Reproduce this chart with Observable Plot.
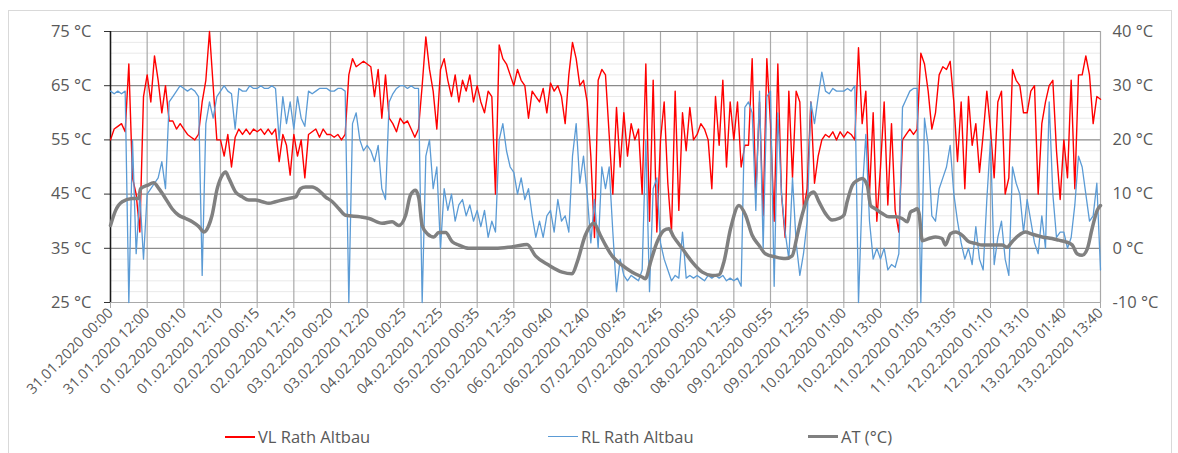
<!DOCTYPE html>
<html>
<head>
<meta charset="utf-8">
<script src="https://cdn.jsdelivr.net/npm/d3@7"></script>
<script src="https://cdn.jsdelivr.net/npm/@observablehq/plot@0.6"></script>
<style>
  html, body { margin: 0; padding: 0; background: #fff; }
  body { width: 1178px; height: 453px; position: relative; overflow: hidden; font-family: "Open Sans", "Noto Sans", sans-serif; }
  #frame { position: absolute; left: 8px; top: 10px; width: 1164px; height: 470px; border: 1px solid #d9d9d9; box-sizing: border-box; }
  #chart { position: absolute; left: 0; top: 0; }
  .leg { position: absolute; top: 425px; font-size: 16.5px; color: #595959; white-space: nowrap; display: flex; align-items: center; }
  .leg span.sw { display: inline-block; width: 30px; margin-right: 3px; }
</style>
</head>
<body>
<div id="frame"></div>
<div id="chart"></div>
<div id="legend"></div>
<script>
// ---------- data ----------
const xLabels = [
  "31.01.2020 00:00", "31.01.2020 12:00", "01.02.2020 00:10", "01.02.2020 12:10",
  "02.02.2020 00:15", "02.02.2020 12:15", "03.02.2020 00:20", "03.02.2020 12:20",
  "04.02.2020 00:25", "04.02.2020 12:25", "05.02.2020 00:35", "05.02.2020 12:35",
  "06.02.2020 00:40", "06.02.2020 12:40", "07.02.2020 00:45", "07.02.2020 12:45",
  "08.02.2020 00:50", "08.02.2020 12:50", "09.02.2020 00:55", "09.02.2020 12:55",
  "10.02.2020 01:00", "10.02.2020 13:00", "11.02.2020 01:05", "11.02.2020 13:05",
  "12.02.2020 01:10", "12.02.2020 13:10", "13.02.2020 01:40", "13.02.2020 13:40"
];
const leftTicks = [25, 35, 45, 55, 65, 75];
const leftTickLabels = ["25 °C", "35 °C", "45 °C", "55 °C", "65 °C", "75 °C"];
const rightTickLabels = ["-10 °C", "0 °C", "10 °C", "20 °C", "30 °C", "40 °C"];
const minorTicks = [27, 29, 31, 33, 37, 39, 41, 43, 47, 49, 51, 53, 57, 59, 61, 63, 67, 69, 71, 73];
const seriesNames = ["VL Rath Altbau", "RL Rath Altbau", "AT (°C)"];

// VL / RL sampled every 0.1 label interval (x = 0 ... 27)
const vl = [
  55, 57, 57.5, 58, 56.5, 69, 48, 45, 38, 63,
  67, 62, 70.5, 66, 60, 65, 58.5, 58.5, 57, 58,
  57, 56, 55.5, 55, 56, 62, 66, 75, 65, 55,
  55, 52, 56, 50, 55.5, 57, 56, 57, 56, 57,
  56.5, 57, 56, 57, 56, 57, 51, 56, 54, 48.5,
  56, 52, 55, 48, 56, 56.5, 57, 55.5, 57, 56,
  56, 55.5, 56, 55, 56, 67, 70, 68.5, 69, 69.5,
  69, 68.5, 63, 68, 59, 67, 59, 58, 56.5, 59,
  58, 58.5, 57, 55.5, 57, 65, 74, 68, 64, 57,
  68, 70, 66, 63, 67, 62, 66, 64, 67, 62,
  65, 62, 60, 64, 63, 45, 72.5, 70, 69, 67,
  65, 68, 66, 65, 59, 64, 63, 62, 64.5, 60,
  65.5, 64, 65, 63, 58, 67, 73, 70, 65, 66,
  62, 52, 37, 66, 68, 67, 56, 45, 61, 50,
  60, 52, 58, 55, 57, 45, 69, 40, 66, 38,
  55, 62, 47, 38, 64, 42, 60, 53, 61, 55,
  56, 58, 57, 55, 46, 63, 54, 66, 50, 62,
  55, 62, 50, 54, 54, 70, 45, 62, 41, 70,
  58, 40, 69, 45, 37, 64, 48, 64, 62, 42,
  46, 62, 47, 52, 55, 56, 55.5, 56.5, 55, 56.5,
  55.5, 56.5, 56, 55, 72, 58, 64, 45, 60, 40,
  50, 62, 43, 58, 42, 38, 55, 56, 57, 56,
  57, 71, 69, 64, 57, 60, 67, 68.5, 68, 69.5,
  62, 51, 62, 46, 63, 54, 58, 49, 56, 64,
  57, 48, 62, 64, 45, 48, 68, 66, 65, 60,
  60, 64, 65, 45, 58, 62, 65, 66, 53, 44,
  55, 48, 66, 46, 67, 67, 70.5, 67, 58, 63,
  62.5
];
const rl = [
  64, 63.5, 64, 63.5, 64, 25, 55, 34, 45, 33,
  45, 46, 47, 48, 51, 46, 62, 63, 64, 65,
  64.5, 64, 64.5, 64, 63, 30, 58, 62, 59, 63,
  64, 65, 64, 63.5, 57, 64.5, 64, 64, 65, 64.5,
  64.5, 65, 64.5, 64.5, 65, 64.5, 55, 63, 58, 62,
  57, 63, 59, 57.5, 64, 63.5, 64, 64.5, 64.5, 64.5,
  64, 64, 64.5, 64.5, 64, 25, 58, 60, 55, 53,
  54, 53, 51, 54, 46, 44, 62, 63.5, 64.5, 65,
  65, 64.5, 65, 64.5, 64.5, 25, 52, 55, 46, 50,
  35, 46, 42, 45, 40, 43, 44, 41, 43, 40,
  42, 39, 42, 37, 40, 38, 55, 58, 53, 50,
  49, 45, 48, 44, 46, 41, 37, 40, 37, 41,
  42, 38, 44, 40, 41, 38, 52, 58, 47, 52,
  45, 36, 44, 35, 50, 46, 50, 38, 27, 33,
  30, 29, 30, 29.5, 29, 31, 55, 27, 46, 48,
  36, 33, 31, 29, 30, 29.5, 38, 29.5, 30, 29.5,
  30, 29.5, 29, 30, 29.5, 30, 29.5, 30, 29, 29.5,
  29, 29.5, 28, 61, 62, 60, 42, 64, 35, 63,
  64, 28, 60, 45, 38, 33, 48, 36, 30, 34,
  40, 62, 58, 63, 67.5, 64, 63.5, 64.5, 64, 64,
  64, 64.5, 64, 65, 25, 45, 56, 40, 33, 35,
  33, 35, 31, 32, 31.5, 34, 61, 62.5, 64, 64.5,
  64.5, 25, 59, 54, 41, 40, 46, 48, 50, 54,
  45, 40, 36, 33, 35, 32, 39, 33, 31, 44,
  55, 32, 37, 40, 33, 30, 50, 47, 45, 38,
  44, 40, 36, 34, 41, 35, 62, 45, 37, 38,
  38, 35, 37, 43, 52, 50, 45, 40, 41, 47,
  31
];
// AT (right axis, °C)
const atX = [
  0, 0.14, 0.32, 0.59, 0.77, 0.82, 1.0, 1.18, 1.32, 1.5,
  1.68, 1.86, 2.05, 2.23, 2.41, 2.55, 2.68, 2.77, 2.91, 3.05,
  3.14, 3.23, 3.41, 3.59, 3.77, 3.95, 4.14, 4.32, 4.5, 4.68,
  4.86, 5.05, 5.18, 5.32, 5.5, 5.68, 5.86, 6.05, 6.23, 6.41,
  6.82, 7.05, 7.41, 7.68, 7.86, 8.05, 8.18, 8.32, 8.41, 8.5,
  8.64, 8.82, 8.95, 9.14, 9.32, 9.5, 9.77, 10.14, 10.5, 10.86,
  11.23, 11.36, 11.59, 11.95, 12.32, 12.59, 12.73, 12.95, 13.18, 13.36,
  13.5, 13.68, 13.95, 14.23, 14.5, 14.59, 14.73, 14.91, 15.09, 15.23,
  15.36, 15.59, 15.86, 16.14, 16.41, 16.59, 16.73, 16.91, 17.14, 17.32,
  17.5, 17.68, 17.86, 18.14, 18.41, 18.59, 18.73, 18.86, 19.05, 19.18,
  19.32, 19.5, 19.68, 19.86, 20.0, 20.09, 20.23, 20.36, 20.5, 20.64,
  20.73, 20.86, 21.05, 21.23, 21.41, 21.59, 21.73, 21.82, 21.91, 22.0,
  22.05, 22.14, 22.32, 22.5, 22.68, 22.77, 22.91, 23.05, 23.23, 23.41,
  23.59, 23.77, 23.95, 24.14, 24.32, 24.45, 24.59, 24.77, 24.95, 25.14,
  25.41, 25.68, 25.86, 26.05, 26.23, 26.36, 26.5, 26.64, 26.77, 26.91,
  27.0
];
const atVal = [
  4.2, 7, 8.6, 9.2, 9.2, 11, 11.6, 12.1, 11, 9.2,
  7.3, 6.1, 5.5, 4.9, 4, 3, 4.2, 6.1, 11, 13.5,
  14.1, 12.9, 10.4, 9.5, 8.9, 8.9, 8.6, 8.3, 8.6, 8.9,
  9.2, 9.5, 11, 11.3, 11.3, 10.7, 9.5, 8.6, 7.3, 6.1,
  5.8, 5.5, 4.6, 4.9, 4.2, 6.1, 9.8, 10.7, 9.2, 4.2,
  2.7, 2.1, 2.9, 2.9, 1.2, 0.6, 0, 0, 0, 0.2,
  0.6, 0.7, -1.4, -3.1, -4.4, -4.7, -2.5, 2.4, 4.6, 2.4,
  0.6, -1.4, -3.1, -4.4, -5.3, -5.6, -2.5, 1.2, 3.3, 3.6,
  2.1, 0, -2.5, -4.4, -5, -4.9, -2.5, 3.6, 7.9, 6.1,
  2.4, 0.6, -1, -1.6, -1.9, -1.4, 2.4, 6.1, 9.8, 10.4,
  8.6, 6.4, 5.2, 5.5, 6.1, 8.6, 11.6, 12.5, 12.9, 11.6,
  7.9, 7.3, 6.4, 5.8, 5.8, 5.5, 4.9, 6.7, 7, 7.3,
  6.5, 1.4, 1.8, 2.1, 1.8, 0.6, 2.7, 3, 2.4, 1.2,
  0.9, 0.6, 0.6, 0.6, 0.6, 0.2, 1.2, 2.4, 3, 2.6,
  2.1, 1.8, 1.5, 1.2, 0.6, -1, -1.3, -0.1, 3.6, 7,
  7.9
];
const colors = ["#ff0000", "#5b9bd5", "#808080"];

// right axis (-10..40 °C) aligned with left axis (25..75 °C)
const rightOffset = leftTicks[0] - (-10);

// ---------- build ----------
const step = 0.1;
const vlData = vl.map((v, i) => ({x: i * step, y: v}));
const rlData = rl.map((v, i) => ({x: i * step, y: v}));
const atData = atX.map((x, i) => ({x, y: atVal[i] + rightOffset}));
const xTicks = xLabels.map((_, i) => i);

const textColor = "#595959";
const plot = Plot.plot({
  width: 1178,
  height: 410,
  marginLeft: 110,
  marginRight: 78,
  marginTop: 31,
  marginBottom: 108,
  style: {fontFamily: "'Open Sans', 'Noto Sans', sans-serif", color: textColor, background: "transparent", overflow: "visible"},
  x: {domain: [0, xLabels.length - 1], label: null},
  y: {domain: [leftTicks[0], leftTicks[leftTicks.length - 1]], label: null},
  marks: [
    Plot.gridY(minorTicks, {stroke: "#e9e9e9", strokeOpacity: 1, strokeWidth: 1}),
    Plot.gridX(xTicks, {stroke: "#a9a9a9", strokeOpacity: 1, strokeWidth: 1.2}),
    Plot.gridY(leftTicks, {stroke: "#8a8a8a", strokeOpacity: 1, strokeWidth: 1.2}),
    Plot.axisY(leftTicks, {anchor: "left", label: null, tickFormat: (d, i) => leftTickLabels[i], tickSize: 6, tickPadding: 13, fontSize: 16.5, stroke: "#333"}),
    Plot.axisY(leftTicks, {anchor: "right", label: null, tickFormat: (d, i) => rightTickLabels[i], tickSize: 0, tickPadding: 12, fontSize: 16.5}),
    Plot.axisX(xTicks, {anchor: "bottom", label: null, tickFormat: i => xLabels[i], tickRotate: -45, tickSize: 6, tickPadding: 2, fontSize: 14.5, stroke: "#a9a9a9"}),
    Plot.ruleX([0], {stroke: "#1a1a1a", strokeWidth: 1.5}),
    Plot.ruleY([leftTicks[0]], {stroke: "#a9a9a9", strokeWidth: 1.2}),
    Plot.line(vlData, {x: "x", y: "y", stroke: colors[0], strokeWidth: 1.4, curve: "linear"}),
    Plot.line(rlData, {x: "x", y: "y", stroke: colors[1], strokeWidth: 1.3, curve: "linear"}),
    Plot.line(atData, {x: "x", y: "y", stroke: colors[2], strokeWidth: 3.5, curve: "monotone-x"})
  ]
});
document.getElementById("chart").appendChild(plot);

// ---------- legend ----------
const legendPos = [[225, 2], [548, 1.3], [808, 3.5]];
const legend = document.getElementById("legend");
seriesNames.forEach((name, i) => {
  const d = document.createElement("div");
  d.className = "leg";
  d.style.left = legendPos[i][0] + "px";
  const sw = document.createElement("span");
  sw.className = "sw";
  sw.style.borderTop = `${legendPos[i][1]}px solid ${colors[i]}`;
  d.appendChild(sw);
  d.appendChild(document.createTextNode(name));
  legend.appendChild(d);
});
</script>
</body>
</html>
